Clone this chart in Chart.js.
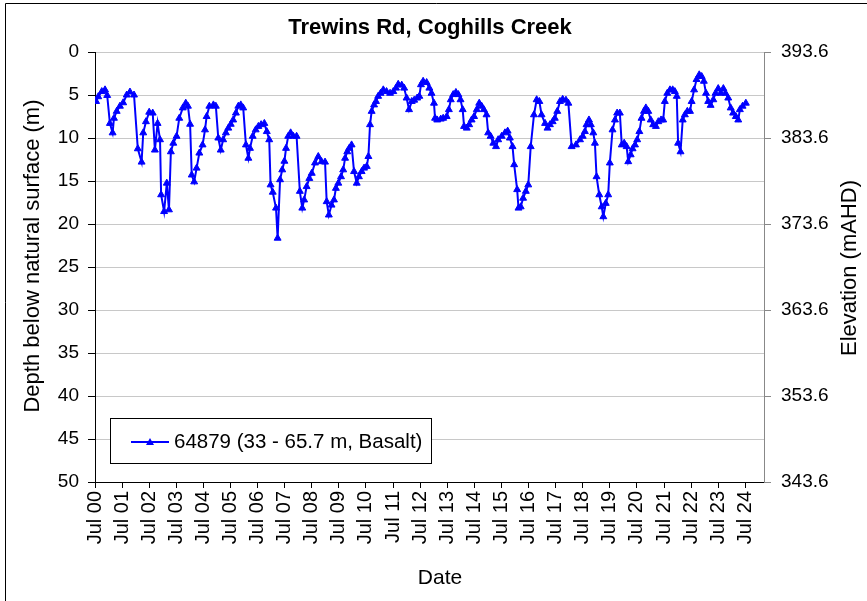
<!DOCTYPE html>
<html>
<head>
<meta charset="utf-8">
<script src="https://cdn.jsdelivr.net/npm/chart.js@4"></script>
<style>
  html, body { margin: 0; padding: 0; background: #fff; }
  #wrap { width: 867px; height: 601px; position: relative; }
</style>
</head>
<body>
<div id="wrap"><canvas id="chart" width="867" height="601"></canvas></div>
<script>
// Trewins Rd, Coghills Creek - bore 64879
const chartTitle = 'Trewins Rd, Coghills Creek';
const seriesLabel = '64879 (33 - 65.7 m, Basalt)';

// sample dates as decimal years
const sampleDates = [
  2000.54, 2000.62, 2000.75, 2000.87, 2000.95, 2001.05, 2001.15, 2001.20, 2001.30, 2001.42,
  2001.54, 2001.67, 2001.79, 2001.94, 2002.08, 2002.22, 2002.28, 2002.38, 2002.50, 2002.63,
  2002.71, 2002.81, 2002.90, 2002.94, 2003.05, 2003.15, 2003.23, 2003.30, 2003.39, 2003.51,
  2003.61, 2003.74, 2003.85, 2003.93, 2004.01, 2004.07, 2004.16, 2004.25, 2004.35, 2004.47,
  2004.56, 2004.62, 2004.72, 2004.87, 2004.96, 2005.05, 2005.14, 2005.23, 2005.33, 2005.42,
  2005.51, 2005.60, 2005.70, 2005.79, 2005.88, 2005.97, 2006.07, 2006.16, 2006.22, 2006.32,
  2006.43, 2006.53, 2006.63, 2006.75, 2006.84, 2006.93, 2006.98, 2007.06, 2007.18, 2007.24,
  2007.33, 2007.41, 2007.49, 2007.55, 2007.63, 2007.72, 2007.82, 2007.94, 2008.06, 2008.15,
  2008.22, 2008.31, 2008.41, 2008.50, 2008.62, 2008.74, 2008.86, 2008.99, 2009.05, 2009.13,
  2009.23, 2009.32, 2009.39, 2009.48, 2009.58, 2009.66, 2009.73, 2009.81, 2009.88, 2009.97,
  2010.06, 2010.16, 2010.24, 2010.34, 2010.43, 2010.53, 2010.59, 2010.65, 2010.71, 2010.80,
  2010.87, 2010.95, 2011.04, 2011.14, 2011.26, 2011.39, 2011.51, 2011.61, 2011.69, 2011.82,
  2011.91, 2012.00, 2012.09, 2012.19, 2012.28, 2012.39, 2012.47, 2012.53, 2012.61, 2012.74,
  2012.84, 2012.92, 2013.01, 2013.05, 2013.13, 2013.26, 2013.35, 2013.48, 2013.56, 2013.63,
  2013.72, 2013.82, 2013.91, 2013.99, 2014.07, 2014.12, 2014.22, 2014.31, 2014.40, 2014.49,
  2014.59, 2014.68, 2014.77, 2014.85, 2014.95, 2015.01, 2015.10, 2015.20, 2015.30, 2015.38,
  2015.51, 2015.63, 2015.73, 2015.81, 2015.91, 2015.97, 2016.08, 2016.13, 2016.21, 2016.30,
  2016.40, 2016.49, 2016.58, 2016.70, 2016.80, 2016.90, 2016.98, 2017.11, 2017.20, 2017.29,
  2017.39, 2017.47, 2017.56, 2017.66, 2017.76, 2017.88, 2017.97, 2018.09, 2018.25, 2018.40,
  2018.50, 2018.58, 2018.64, 2018.73, 2018.80, 2018.89, 2018.95, 2019.01, 2019.11, 2019.20,
  2019.26, 2019.35, 2019.44, 2019.50, 2019.60, 2019.69, 2019.77, 2019.87, 2019.94, 2020.03,
  2020.12, 2020.18, 2020.27, 2020.34, 2020.43, 2020.51, 2020.59, 2020.67, 2020.76, 2020.83,
  2020.92, 2021.01, 2021.10, 2021.20, 2021.29, 2021.39, 2021.47, 2021.53, 2021.62, 2021.72,
  2021.82, 2021.90, 2021.97, 2022.02, 2022.11, 2022.19, 2022.27, 2022.36, 2022.46, 2022.52,
  2022.61, 2022.70, 2022.80, 2022.89, 2022.97, 2023.05, 2023.13, 2023.22, 2023.32, 2023.40,
  2023.50, 2023.59, 2023.69, 2023.77, 2023.87, 2023.96, 2024.05, 2024.15, 2024.24, 2024.30,
  2024.40, 2024.52
];

// depth below natural surface (m)
const depthBelowSurface = [
  5.75, 5.2, 4.6, 4.4, 5.05, 8.3, 9.4, 7.7, 6.9, 6.3,
  5.9, 5.0, 4.65, 5.0, 11.25, 12.8, 9.4, 8.1, 7.0, 7.1,
  11.4, 8.3, 10.2, 16.6, 18.55, 15.25, 18.35, 11.6, 10.6, 9.8,
  7.7, 6.5, 5.95, 6.3, 8.4, 14.3, 15.1, 13.5, 11.75, 10.8,
  9.05, 7.5, 6.3, 6.15, 6.3, 10.0, 11.4, 10.2, 9.4, 8.85,
  8.4, 7.9, 7.1, 6.3, 6.15, 6.5, 10.8, 12.35, 11.2, 9.8,
  9.05, 8.65, 8.45, 8.3, 9.25, 10.2, 15.45, 16.3, 18.15, 21.65,
  14.85, 13.7, 12.7, 11.2, 9.8, 9.4, 9.8, 9.8, 16.2, 18.15,
  17.2, 15.65, 14.7, 14.1, 12.9, 12.15, 12.75, 12.8, 17.4, 18.95,
  17.8, 17.2, 15.85, 15.25, 14.5, 13.7, 12.35, 11.6, 11.2, 10.8,
  13.9, 15.25, 14.5, 13.9, 13.5, 13.3, 12.15, 8.45, 6.9, 6.15,
  5.75, 5.15, 4.8, 4.4, 4.6, 4.8, 4.6, 4.2, 3.75, 3.85,
  4.2, 5.35, 6.7, 5.75, 5.6, 5.35, 5.15, 3.8, 3.4, 3.55,
  4.2, 4.8, 5.95, 7.7, 7.9, 7.8, 7.7, 7.5, 6.7, 5.55,
  4.95, 4.7, 4.95, 5.55, 6.7, 8.65, 8.85, 8.45, 7.9, 7.5,
  6.7, 5.95, 6.3, 6.7, 7.3, 9.4, 9.8, 10.6, 11.0, 10.2,
  9.8, 9.4, 9.2, 10.0, 11.0, 13.1, 16.0, 18.15, 18.0, 17.0,
  16.2, 15.45, 11.0, 7.3, 5.55, 5.75, 7.3, 8.3, 8.85, 8.45,
  8.1, 7.7, 6.9, 5.75, 5.5, 5.6, 5.95, 11.0, 10.8, 10.2,
  9.8, 9.25, 8.45, 7.9, 8.45, 9.4, 10.6, 14.5, 16.6, 18.0,
  19.15, 17.6, 16.6, 12.9, 9.05, 7.9, 7.1, 7.1, 10.8, 10.6,
  11.0, 12.75, 11.95, 11.25, 10.8, 10.2, 9.25, 7.7, 6.9, 6.5,
  6.9, 7.9, 8.45, 8.65, 8.1, 7.9, 7.9, 5.75, 4.8, 4.4,
  4.4, 4.6, 5.15, 10.6, 11.6, 7.9, 7.3, 6.9, 6.9, 5.75,
  4.4, 3.2, 2.65, 2.85, 3.4, 4.8, 5.75, 6.2, 5.55, 4.8,
  4.25, 4.8, 4.25, 4.8, 5.35, 6.5, 7.1, 7.5, 7.9, 6.7,
  6.3, 5.95
];

// axis ticks
const xTickLabels = ['Jul 00', 'Jul 01', 'Jul 02', 'Jul 03', 'Jul 04', 'Jul 05', 'Jul 06', 'Jul 07',
  'Jul 08', 'Jul 09', 'Jul 10', 'Jul 11', 'Jul 12', 'Jul 13', 'Jul 14', 'Jul 15', 'Jul 16',
  'Jul 17', 'Jul 18', 'Jul 19', 'Jul 20', 'Jul 21', 'Jul 22', 'Jul 23', 'Jul 24'];
const depthTicks = [0, 5, 10, 15, 20, 25, 30, 35, 40, 45, 50];
const elevationTicks = [393.6, 383.6, 373.6, 363.6, 353.6, 343.6];

const FONT = "'Liberation Sans', Arial, sans-serif";
const xStart = 2000.5; // Jul 2000

const points = sampleDates.map((d, i) => ({ x: d, y: depthBelowSurface[i] }));

// titles, frame and in-plot legend
const decorPlugin = {
  id: 'decor',
  afterDraw(chart) {
    const ctx = chart.ctx;
    ctx.save();
    ctx.strokeStyle = '#000';
    ctx.lineWidth = 1;
    ctx.beginPath();
    ctx.moveTo(5.5, 601);
    ctx.lineTo(5.5, 3.5);
    ctx.lineTo(867, 3.5);
    ctx.stroke();

    ctx.fillStyle = '#000';
    ctx.textAlign = 'center';
    ctx.textBaseline = 'middle';
    ctx.font = `bold 22px ${FONT}`;
    ctx.fillText(chartTitle, 430, 28);

    ctx.font = `21px ${FONT}`;
    ctx.fillText('Date', 440, 578);

    ctx.font = `22px ${FONT}`;
    ctx.save();
    ctx.translate(33, 256);
    ctx.rotate(-Math.PI / 2);
    ctx.fillText('Depth below natural surface (m)', 0, 0);
    ctx.restore();

    ctx.save();
    ctx.translate(850, 268);
    ctx.rotate(-Math.PI / 2);
    ctx.fillText('Elevation (mAHD)', 0, 0);
    ctx.restore();

    // legend box
    ctx.fillStyle = '#fff';
    ctx.fillRect(110.5, 418.5, 321, 45);
    ctx.strokeStyle = '#000';
    ctx.lineWidth = 1;
    ctx.strokeRect(110.5, 418.5, 321, 45);
    ctx.strokeStyle = '#0000ff';
    ctx.lineWidth = 2;
    ctx.beginPath();
    ctx.moveTo(131, 442);
    ctx.lineTo(169, 442);
    ctx.stroke();
    ctx.fillStyle = '#0000ff';
    ctx.beginPath();
    ctx.moveTo(150, 438);
    ctx.lineTo(154, 445);
    ctx.lineTo(146, 445);
    ctx.closePath();
    ctx.fill();
    ctx.fillStyle = '#000';
    ctx.textAlign = 'left';
    ctx.font = `20.5px ${FONT}`;
    ctx.fillText(seriesLabel, 174, 442);
    ctx.restore();
  }
};

new Chart(document.getElementById('chart'), {
  type: 'scatter',
  data: {
    datasets: [{
      label: seriesLabel,
      data: points,
      showLine: true,
      borderColor: '#0000ff',
      backgroundColor: '#0000ff',
      borderWidth: 2,
      pointStyle: 'triangle',
      pointRadius: 4,
      pointBorderWidth: 1,
      tension: 0,
      yAxisID: 'y'
    }]
  },
  options: {
    responsive: false,
    animation: false,
    layout: { padding: { top: 52, left: 0, right: 0, bottom: 0 } },
    plugins: {
      legend: { display: false },
      title: { display: false },
      tooltip: { enabled: false }
    },
    scales: {
      x: {
        type: 'linear',
        min: xStart,
        max: 2025.19,
        afterBuildTicks: (scale) => {
          scale.ticks = xTickLabels.map((l, i) => ({ value: xStart + i }));
        },
        afterFit: (scale) => { scale.height = 119; },
        ticks: {
          autoSkip: false,
          minRotation: 90,
          maxRotation: 90,
          padding: 3,
          color: '#000',
          font: { family: FONT, size: 20 },
          callback: (v) => xTickLabels[Math.round(v - xStart)]
        },
        grid: { drawOnChartArea: false, tickLength: 6, tickColor: '#000' },
        border: { color: '#000', width: 1 }
      },
      y: {
        position: 'left',
        reverse: true,
        min: 0,
        max: 50,
        afterBuildTicks: (scale) => {
          scale.ticks = depthTicks.map(v => ({ value: v }));
        },
        afterFit: (scale) => { scale.width = 95; },
        ticks: {
          padding: 9,
          color: '#000',
          font: { family: FONT, size: 19 }
        },
        grid: { color: '#c8c8c8', lineWidth: 1, tickLength: 7, tickColor: '#000' },
        border: { color: '#000', width: 1 }
      },
      y2: {
        position: 'right',
        min: 343.6,
        max: 393.6,
        afterBuildTicks: (scale) => {
          scale.ticks = elevationTicks.map(v => ({ value: v }));
        },
        afterFit: (scale) => { scale.width = 103; },
        ticks: {
          padding: 10,
          color: '#000',
          font: { family: FONT, size: 19 },
          callback: (v) => v.toFixed(1)
        },
        grid: { drawOnChartArea: false, tickLength: 7, tickColor: '#888' },
        border: { color: '#888', width: 1 }
      }
    }
  },
  plugins: [decorPlugin]
});
</script>
</body>
</html>
